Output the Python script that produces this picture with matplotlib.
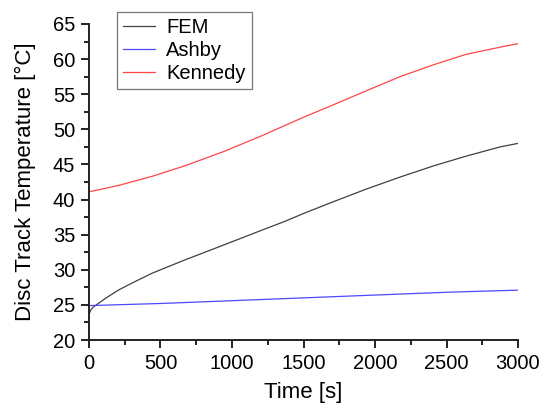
import matplotlib
matplotlib.use("Agg")
import matplotlib.pyplot as plt
from matplotlib.ticker import MultipleLocator

plt.rcParams['font.family'] = ['Liberation Sans', 'DejaVu Sans']

# Time samples [s] and temperatures [°C] for each model
time_fem = [0, 10, 30, 65, 120, 205, 300, 440, 670, 900, 1140, 1370, 1510, 1710,
            1940, 2175, 2410, 2640, 2875, 3000]
temp_fem = [23.6, 24.2, 24.7, 25.2, 26.0, 27.1, 28.1, 29.5, 31.4, 33.2, 35.1, 36.9, 38.1, 39.7,
            41.5, 43.2, 44.8, 46.2, 47.5, 48.0]

time_ashby = [0, 500, 1000, 1500, 2000, 2500, 3000]
temp_ashby = [24.9, 25.2, 25.6, 26.0, 26.4, 26.8, 27.1]

time_kennedy = [0, 205, 440, 670, 950, 1210, 1475, 1710, 1940, 2175, 2410, 2640, 2875, 3000]
temp_kennedy = [41.1, 42.0, 43.3, 44.8, 46.9, 49.1, 51.5, 53.5, 55.5, 57.5, 59.2, 60.7, 61.7, 62.2]

fig = plt.figure(figsize=(5.41, 4.04), dpi=100)
ax = fig.add_axes([0.1645, 0.1584, 0.7930, 0.7822])

ax.plot(time_fem, temp_fem, color='#404040', lw=0.9, label='FEM')
ax.plot(time_ashby, temp_ashby, color='#4a4aff', lw=0.9, label='Ashby')
ax.plot(time_kennedy, temp_kennedy, color='#ff4545', lw=0.9, label='Kennedy')

ax.set_xlim(0, 3000)
ax.set_ylim(20, 65)
ax.xaxis.set_major_locator(MultipleLocator(500))
ax.xaxis.set_minor_locator(MultipleLocator(250))
ax.yaxis.set_major_locator(MultipleLocator(5))
ax.yaxis.set_minor_locator(MultipleLocator(2.5))

for s in ('top', 'right'):
    ax.spines[s].set_visible(False)
for s in ('left', 'bottom'):
    ax.spines[s].set_linewidth(1.4)
    ax.spines[s].set_color('#222222')

ax.tick_params(which='major', direction='out', length=6, width=1.4, labelsize=14.5,
               color='#222222', pad=4)
ax.tick_params(which='minor', direction='out', length=3.5, width=1.4, color='#222222')

ax.set_xlabel('Time [s]', fontsize=16, labelpad=6.5)
ax.set_ylabel('Disc Track Temperature [°C]', fontsize=16, labelpad=12)

leg = ax.legend(loc='upper left', bbox_to_anchor=(0.065, 1.038), fontsize=14.5, frameon=True,
                fancybox=False, edgecolor='#555555', handlelength=1.6, handletextpad=0.55,
                borderpad=0.3, labelspacing=0.2, borderaxespad=0)
leg.get_frame().set_linewidth(0.9)

fig.savefig('out.png', dpi=100)
